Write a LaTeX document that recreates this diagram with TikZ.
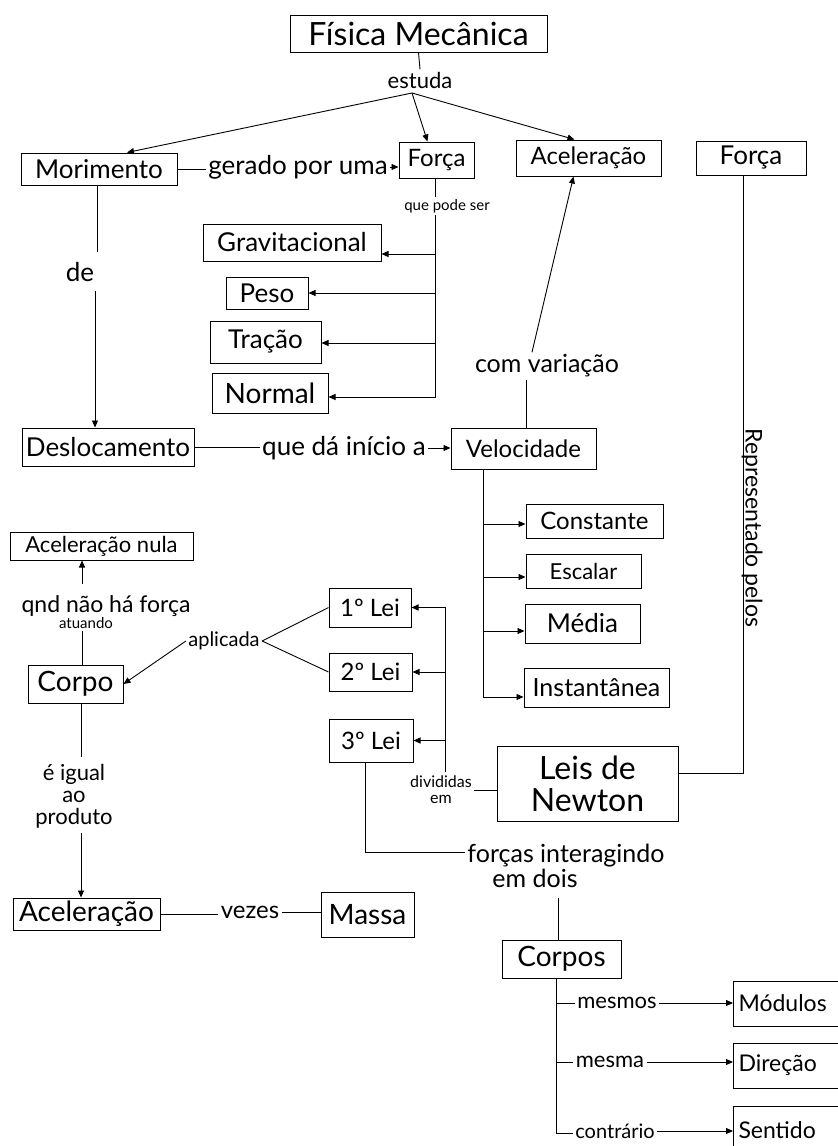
\documentclass[tikz,border=0pt]{standalone}
\usepackage{fontspec}
\setmainfont{Lato}
\usetikzlibrary{arrows.meta}
\begin{document}
\begin{tikzpicture}[x=1pt,y=-1pt,
  line width=0.9pt,
  conc/.style={draw, line width=1pt, inner sep=0pt, align=center},
  edgebox/.style={conc, anchor=west, text width=140, align=left, inner xsep=5, minimum height=45, fs=23},
  lbl/.style={inner sep=2pt, align=center},
  arr/.style={-{Triangle[length=7pt,width=6pt]}},
  fs/.style={font=\fontsize{#1}{#1}\selectfont}]
\useasboundingbox (0,0) rectangle (838,1146);
\clip (0,0) rectangle (838,1146);

% concepts
\node[conc, minimum width=257, minimum height=37, fs=32] (fis) at (418.5,33.5) {Física Mecânica};
\node[lbl, fs=22] (estuda) at (420,80) {estuda};
\node[conc, minimum width=156, minimum height=32, fs=26] (mor) at (99,169) {Morimento};
\node[conc, minimum width=75, minimum height=36, fs=24] (forca1) at (436.5,160) {Força};
\node[conc, minimum width=145, minimum height=36, fs=24] (acel1) at (588.5,158) {Aceleração};
\node[conc, minimum width=110, minimum height=34, fs=26] (forca2) at (751,158) {Força};
\node[lbl, fs=26] (gerado) at (298,167) {gerado por uma};
\node[lbl, fs=15] (quepode) at (447,206) {que pode ser};
\node[conc, minimum width=178, minimum height=37, fs=26] (grav) at (292,242.5) {Gravitacional};
\node[conc, minimum width=82, minimum height=32, fs=26] (peso) at (267,293) {Peso};
\node[conc, minimum width=111, minimum height=42, fs=26] (tracao) at (265.5,342) {Tração};
\node[conc, minimum width=116, minimum height=40, fs=28] (normal) at (270,393) {Normal};
\node[lbl, fs=26] (de) at (80,272) {de};
\node[conc, minimum width=172, minimum height=38, fs=26] (desl) at (108,447) {Deslocamento};
\node[lbl, fs=26] (inicio) at (344,448) {que dá início a};
\node[conc, minimum width=145, minimum height=41, fs=24] (vel) at (523.5,448.5) {Velocidade};
\node[lbl, fs=25] (comvar) at (547,366) {com variação};
\node[lbl, fs=23, rotate=-90] (repr) at (752,528) {Representado pelos};
\node[conc, minimum width=137, minimum height=34, fs=24] (const) at (594.5,521) {Constante};
\node[conc, minimum width=115, minimum height=34, fs=22] (escalar) at (583.5,571) {Escalar};
\node[conc, minimum width=115, minimum height=39, fs=26] (media) at (582.5,623.5) {Média};
\node[conc, minimum width=145, minimum height=39, fs=25] (inst) at (596.5,687.5) {Instantânea};
\node[conc, minimum width=183, minimum height=28, fs=22] (nula) at (101.5,546) {Aceleração nula};
\node[lbl, fs=23] (qnd) at (106,606) {qnd não há força};
\node[lbl, fs=15] (atuando) at (86,623) {atuando};
\node[conc, minimum width=95, minimum height=38, fs=28] (corpo) at (75.5,684) {Corpo};
\node[lbl, fs=20] (aplicada) at (224,641) {aplicada};
\node[conc, minimum width=82, minimum height=39, fs=24] (lei1) at (370,607.5) {1º Lei};
\node[conc, minimum width=83, minimum height=38, fs=24] (lei2) at (370.5,672) {2º Lei};
\node[conc, minimum width=84, minimum height=43, fs=24] (lei3) at (371,740.5) {3º Lei};
\node[lbl, fs=16] (divididas) at (441,790) {divididas\\em};
\node[conc, minimum width=181, minimum height=75, fs=32] (newton) at (587.5,783.5) {Leis de\\Newton};
\node[lbl, fs=22] (igual) at (74,796) {é igual\\ao\\produto};
\node[conc, minimum width=147, minimum height=32, fs=28] (acel2) at (86.5,914) {Aceleração};
\node[lbl, fs=24] (vezes) at (250,912) {vezes};
\node[conc, minimum width=93, minimum height=45, fs=28] (massa) at (367.5,914.5) {Massa};
\node[lbl, fs=25, align=left] (forcasint) at (566,866) {forças interagindo\\\hspace{1em}em dois};
\node[conc, minimum width=119, minimum height=38, fs=28] (corpos) at (561.5,959) {Corpos};
\node[lbl, fs=22] (mesmos) at (617,1003) {mesmos};
\node[lbl, fs=22] (mesma) at (610,1062) {mesma};
\node[lbl, fs=20] (contrario) at (615,1131) {contrário};
\node[edgebox] (modulos) at (733,1003.5) {Módulos};
\node[edgebox] (direcao) at (733,1065.5) {Direção};
\node[edgebox, minimum height=48] (sentido) at (733,1130) {Sentido};

% Física Mecânica estuda ...
\coordinate (e0) at (412,93);
\draw (fis.south) -- (estuda.north);
\draw[arr] (e0) -- ([xshift=28]mor.north);
\draw[arr] (e0) -- ([xshift=-9]forca1.north);
\draw[arr] (e0) -- ([xshift=-14]acel1.north);

% Movimento gerado por uma Força
\draw (mor.east) -- (mor.east -| gerado.west);
\draw[arr] (gerado.east) -- (gerado.east -| forca1.west);

% kinds of force
\coordinate (fv) at (435,222);
\coordinate (g1) at (435,254);
\coordinate (g2) at (435,293);
\coordinate (g3) at (435,343);
\coordinate (g4) at (435,397);
\draw (forca1.south -| fv) -- (quepode.north -| fv);
\draw[arr] (quepode.south -| fv) -- (g4) -- (g4 -| normal.east);
\draw[arr] (g1) -- (g1 -| grav.east);
\draw[arr] (g2) -- (g2 -| peso.east);
\draw[arr] (g3) -- (g3 -| tracao.east);

% Movimento de Deslocamento
\coordinate (d1) at (97,252);
\coordinate (d2) at (95,291);
\draw (mor.south -| d1) -- (d1);
\draw[arr] (d2) -- (d2 |- desl.north);

% Deslocamento -> Velocidade -> Aceleração
\draw (desl.east) -- (desl.east -| inicio.west);
\draw[arr] (inicio.east) -- (inicio.east -| vel.west);
\draw ([xshift=2.5]vel.north) -- ([xshift=-21]comvar.south);
\draw[arr] ([xshift=-15]comvar.north) -- ([xshift=-15]acel1.south);

% Força representada pelas Leis de Newton
\coordinate (fr) at (743,773);
\draw (forca2.south -| fr) -- (fr) -- (fr -| newton.east);

% kinds of velocity
\coordinate (vb) at (483,697);
\coordinate (v1) at (483,524);
\coordinate (v2) at (483,577);
\coordinate (v3) at (483,631);
\draw[arr] (vel.south -| vb) -- (vb) -- (vb -| inst.west);
\draw[arr] (v1) -- (v1 -| const.west);
\draw[arr] (v2) -- (v2 -| escalar.west);
\draw[arr] (v3) -- (v3 -| media.west);

% Corpo
\coordinate (qa) at (82,584);
\coordinate (qb) at (82,631);
\draw[arr] (qa) -- (qa |- nula.south);
\draw (qb) -- (qb |- corpo.north);
\draw[arr] (aplicada.west) -- (corpo.east);
\draw (aplicada.east) -- (lei1.west);
\draw (aplicada.east) -- (lei2.west);

% Leis de Newton divididas em 1a, 2a, 3a
\coordinate (lb) at (445,772);
\draw[arr] (lb) -- (lb |- lei1.east) -- (lei1.east);
\draw[arr] (lb |- lei2.east) -- (lei2.east);
\draw[arr] (lb |- lei3.east) -- (lei3.east);
\draw (divididas.east) -- (divididas.east -| newton.west);

% 3a Lei: forças interagindo em dois corpos
\coordinate (l3) at (365,852);
\coordinate (ci) at (558,898);
\draw (lei3.south -| l3) -- (l3) -- (l3 -| forcasint.west);
\draw (ci) -- (ci |- corpos.north);

\coordinate (cb) at (556,1133);
\draw (corpos.south -| cb) -- (cb) -- (cb -| contrario.west);
\draw (cb |- mesmos.west) -- (mesmos.west);
\draw (cb |- mesma.west) -- (mesma.west);
\draw[arr] (mesmos.east) -- (mesmos.east -| modulos.west);
\draw[arr] (mesma.east) -- (mesma.east -| direcao.west);
\draw[arr] (contrario.east) -- (contrario.east -| sentido.west);

% Força = Massa x Aceleração
\coordinate (ig1) at (81,757);
\coordinate (ig2) at (81,833);
\draw (corpo.south -| ig1) -- (ig1);
\draw[arr] (ig2) -- (ig2 |- acel2.north);
\draw (acel2.east) -- (acel2.east -| vezes.west);
\draw (vezes.east) -- (vezes.east -| massa.west);
\end{tikzpicture}
\end{document}
